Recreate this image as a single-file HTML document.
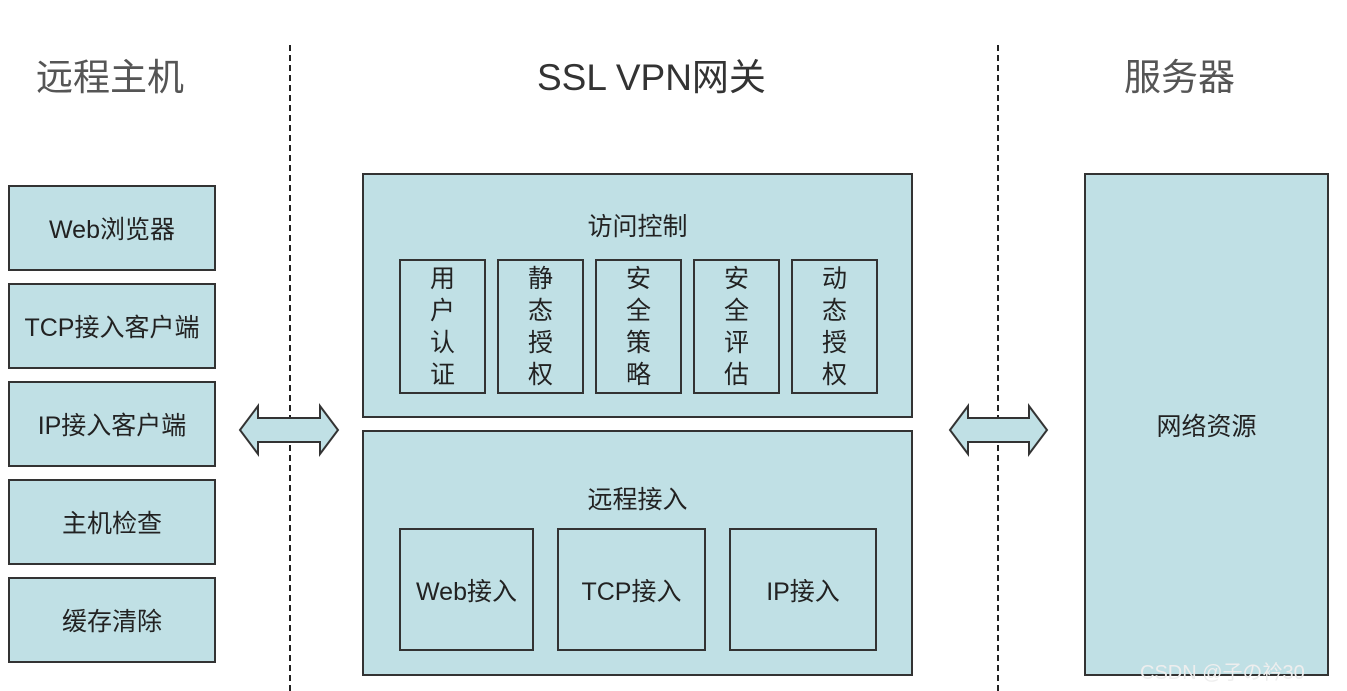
<!DOCTYPE html>
<html><head><meta charset="utf-8"><style>
body{margin:0;width:1347px;height:691px;background:#fff;position:relative;overflow:hidden;font-family:"Liberation Sans","Noto Sans CJK SC",sans-serif;color:#222}
.b{position:absolute;background:#c0e0e5;border:2px solid #333;box-sizing:border-box;display:flex;align-items:center;justify-content:center;font-size:25px}
.v{flex-direction:column;font-size:25px;line-height:32px}
.t{position:absolute;font-size:37px;color:#333;top:47px}
.d{position:absolute;top:45px;height:646px;border-left:2px dashed #222}
</style></head><body>
<div class="t" style="left:36px;color:#555">远程主机</div>
<div class="t" style="left:537px">SSL VPN网关</div>
<div class="t" style="left:1124px;color:#555">服务器</div>
<div class="d" style="left:289px"></div>
<div class="d" style="left:997px"></div>
<div class="b" style="left:8px;top:185px;width:208px;height:86px">Web浏览器</div>
<div class="b" style="left:8px;top:283px;width:208px;height:86px">TCP接入客户端</div>
<div class="b" style="left:8px;top:381px;width:208px;height:86px">IP接入客户端</div>
<div class="b" style="left:8px;top:479px;width:208px;height:86px">主机检查</div>
<div class="b" style="left:8px;top:577px;width:208px;height:86px">缓存清除</div>
<div class="b" style="left:362px;top:173px;width:551px;height:245px;align-items:flex-start;padding-top:32px">访问控制</div>
<div class="b v" style="left:399px;top:259px;width:87px;height:135px"><span>用</span><span>户</span><span>认</span><span>证</span></div>
<div class="b v" style="left:497px;top:259px;width:87px;height:135px"><span>静</span><span>态</span><span>授</span><span>权</span></div>
<div class="b v" style="left:595px;top:259px;width:87px;height:135px"><span>安</span><span>全</span><span>策</span><span>略</span></div>
<div class="b v" style="left:693px;top:259px;width:87px;height:135px"><span>安</span><span>全</span><span>评</span><span>估</span></div>
<div class="b v" style="left:791px;top:259px;width:87px;height:135px"><span>动</span><span>态</span><span>授</span><span>权</span></div>
<div class="b" style="left:362px;top:430px;width:551px;height:246px;align-items:flex-start;padding-top:48px">远程接入</div>
<div class="b" style="left:399px;top:528px;width:135px;height:123px">Web接入</div>
<div class="b" style="left:557px;top:528px;width:149px;height:123px">TCP接入</div>
<div class="b" style="left:729px;top:528px;width:148px;height:123px">IP接入</div>
<div class="b" style="left:1084px;top:173px;width:245px;height:503px">网络资源</div>
<svg style="position:absolute;left:0;top:0" width="1347" height="691">
<polygon points="240,430 258,406 258,418 320,418 320,406 338,430 320,454 320,442 258,442 258,454" fill="#c0e0e5" stroke="#333" stroke-width="2"/>
<polygon points="950,430 968,406 968,418 1029,418 1029,406 1047,430 1029,454 1029,442 968,442 968,454" fill="#c0e0e5" stroke="#333" stroke-width="2"/>
</svg>
<div style="position:absolute;left:1140px;top:656px;font-size:20px;color:#eee">CSDN @子の衿30</div>
</body></html>
